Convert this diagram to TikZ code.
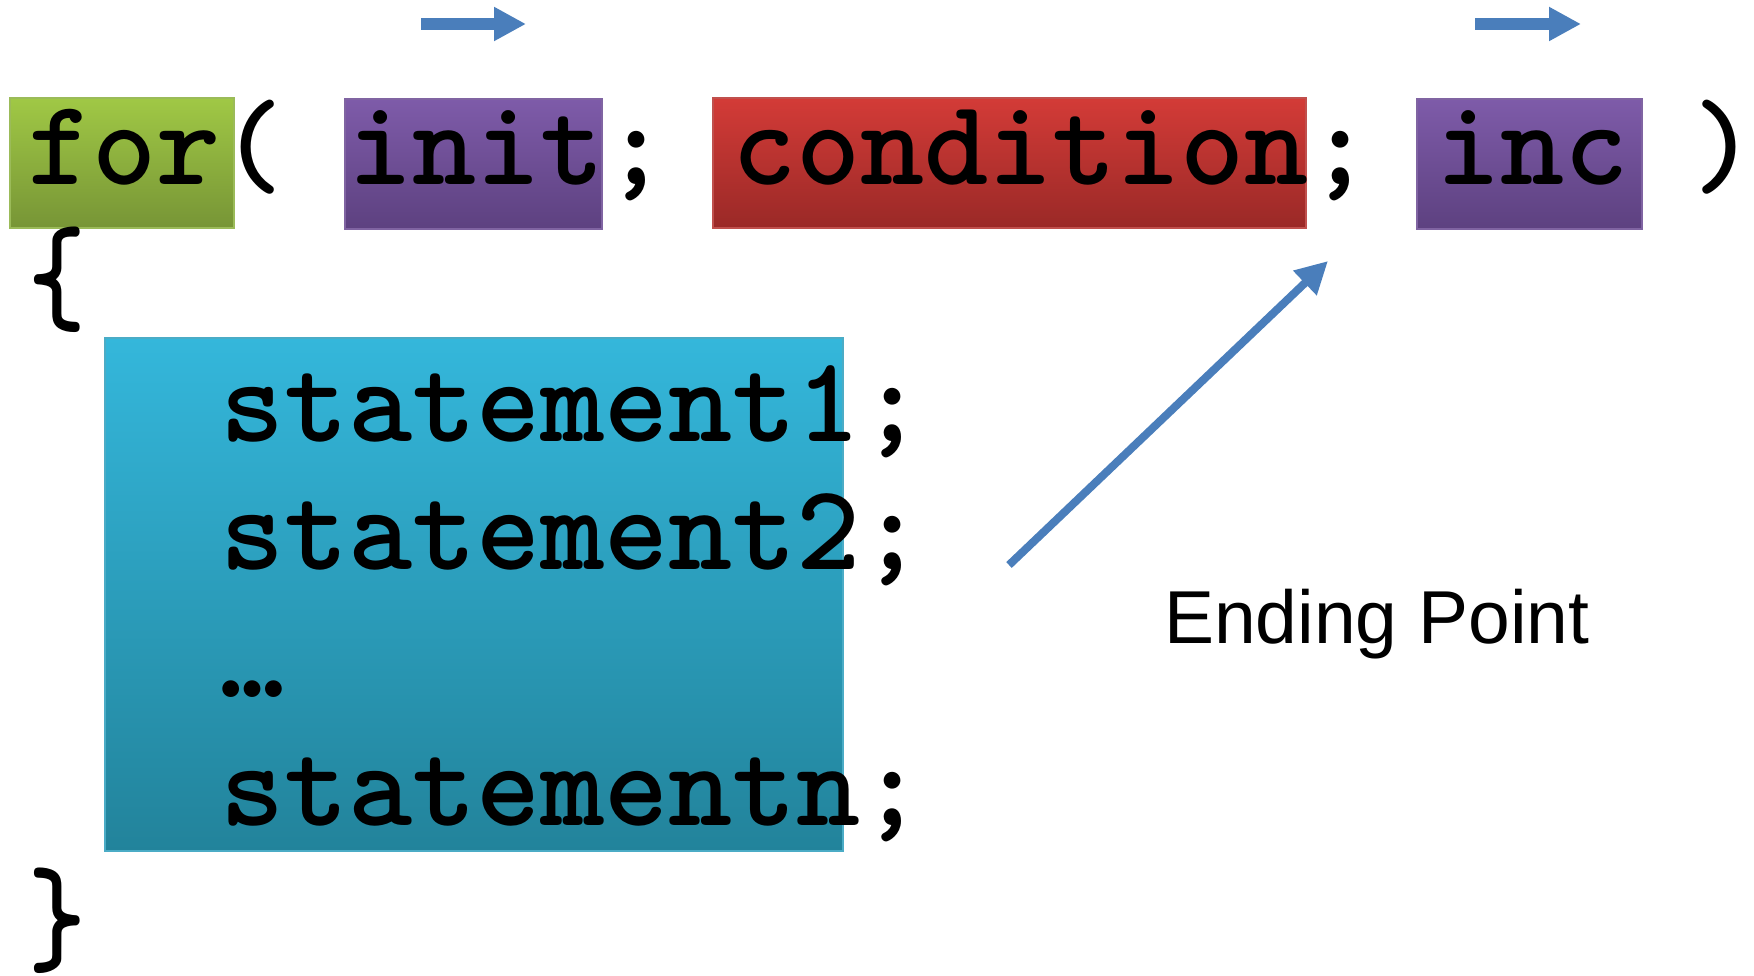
\documentclass[tikz,border=0pt]{standalone}
\usepackage{fontspec}
\newfontfamily\arialfont{Liberation Sans}
\usetikzlibrary{arrows.meta}
\definecolor{grtop}{HTML}{A0C845}
\definecolor{grbot}{HTML}{779536}
\definecolor{grline}{HTML}{9BBB59}
\definecolor{putop}{HTML}{7E5BA9}
\definecolor{pubot}{HTML}{5D4180}
\definecolor{puline}{HTML}{8064A2}
\definecolor{retop}{HTML}{D33B37}
\definecolor{rebot}{HTML}{9A2927}
\definecolor{reline}{HTML}{C0504D}
\definecolor{bltop}{HTML}{34B7DB}
\definecolor{blbot}{HTML}{22839B}
\definecolor{blline}{HTML}{4BACC6}
\definecolor{arrowblue}{HTML}{4A7EBB}
\tikzset{
  codetext/.style={inner sep=0pt, outer sep=0pt, anchor=base west,
    font=\ttfamily\bfseries\fontsize{122pt}{128pt}\selectfont},
  panel/.style={rectangle, inner sep=0pt, anchor=north west, line width=2pt},
  greenpanel/.style={panel, draw=grline, top color=grtop, bottom color=grbot},
  purplepanel/.style={panel, draw=puline, top color=putop, bottom color=pubot},
  redpanel/.style={panel, draw=reline, top color=retop, bottom color=rebot},
  bluepanel/.style={panel, draw=blline, top color=bltop, bottom color=blbot},
  blockarrow/.style={draw=arrowblue, line width=12pt, -{Triangle[length=32pt,width=32pt]}},
  thinarrow/.style={draw=arrowblue, line width=8pt, -{Triangle[length=32pt,width=32pt]}},
  labeltext/.style={inner sep=0pt, anchor=base west, font=\arialfont\fontsize{75pt}{90pt}\selectfont}
}
\begin{document}
\begin{tikzpicture}[x=1pt,y=-1pt]
\useasboundingbox (0,0) rectangle (1754,976);
% coloured panels
\node[greenpanel, minimum width=224pt, minimum height=130pt] (forbox) at (9,97) {};
\node[purplepanel, minimum width=257pt, minimum height=130pt] (initbox) at (344,98) {};
\node[redpanel, minimum width=593pt, minimum height=130pt] (condbox) at (712,97) {};
\node[purplepanel, minimum width=225pt, minimum height=130pt] (incbox) at (1416,98) {};
\node[bluepanel, minimum width=738pt, minimum height=513pt] (bodybox) at (104,337) {};
% code text
\node[codetext] (tfor) at (28,185) {for};
\node[codetext] (lpar) at (220,185) {(};
\node[codetext] (tinit) at (348,185) {init};
\node[codetext] (semione) at (604,185) {;};
\node[codetext] (tcond) at (732,185) {condition};
\node[codetext] (semitwo) at (1308,185) {;};
\node[codetext] (tinc) at (1436,185) {inc};
\node[codetext] (rpar) at (1692,185) {)};
\node[codetext] (lbrace) at (28,322) {\scalebox{0.9}[1.12]{\{}};
\node[codetext] (sone) at (220,441) {statement1;};
\node[codetext] (stwo) at (220,569) {statement2;};
\node[codetext] (sdots) at (220,697) {…};
\node[codetext] (sn) at (220,825) {statementn;};
\node[codetext] (rbrace) at (28,962) {\scalebox{0.9}[1.12]{\}}};
% label
\node[labeltext] (endlabel) at (1164,643) {Ending Point};
% arrows
\coordinate (aones) at (421,24);
\coordinate (aonee) at (526,24);
\coordinate (atwos) at (1475,24);
\coordinate (atwoe) at (1581,24);
\coordinate (dstart) at (1009,565);
\coordinate (dend) at (1328,261);
\draw[blockarrow] (aones) -- (aonee);
\draw[blockarrow] (atwos) -- (atwoe);
\draw[thinarrow] (dstart) -- (dend);
\end{tikzpicture}
\end{document}
